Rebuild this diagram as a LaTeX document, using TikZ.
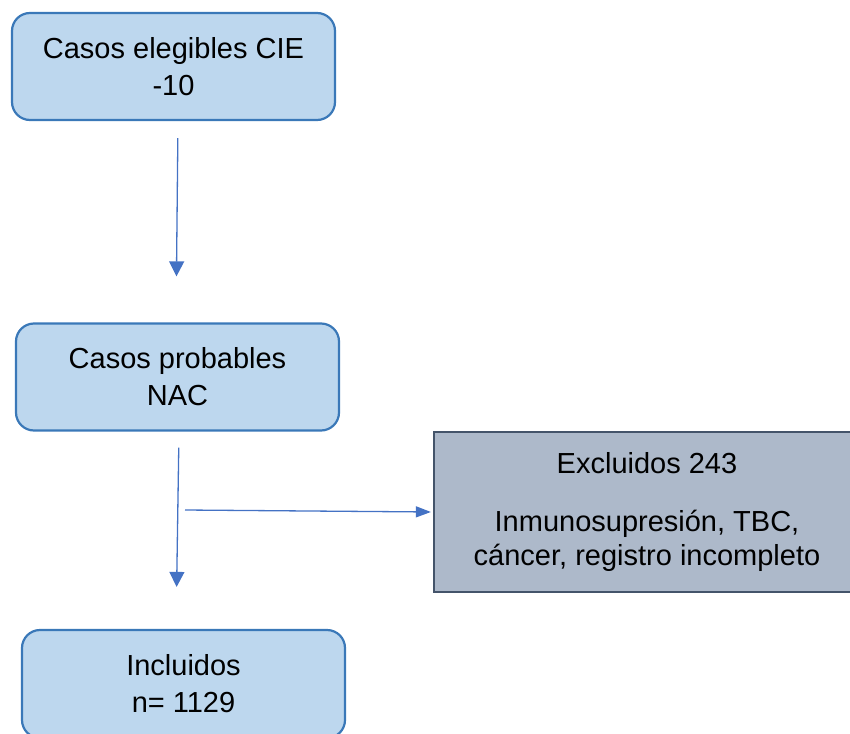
\documentclass[tikz,border=0pt]{standalone}
\usepackage{fontspec}
\setmainfont{Liberation Sans}
\usetikzlibrary{arrows.meta}

\definecolor{cajaborde}{HTML}{3A78B8}
\definecolor{cajafondo}{HTML}{BDD7EE}
\definecolor{grisborde}{HTML}{44546A}
\definecolor{grisfondo}{HTML}{ADB9CA}
\definecolor{flechacol}{HTML}{4472C4}

\begin{document}
\begin{tikzpicture}[x=1pt,y=-1pt,
	caja/.style={draw=cajaborde,fill=cajafondo,line width=2.2pt,rounded corners=18pt,
		minimum width=323pt,minimum height=107pt,inner sep=0pt,align=center,
		font=\fontsize{29}{37}\selectfont},
	excluidos/.style={draw=grisborde,fill=grisfondo,line width=2.2pt,
		minimum width=426pt,minimum height=160pt,inner sep=0pt,align=center,
		font=\fontsize{29}{34}\selectfont},
	flecha/.style={draw=flechacol,line width=1.3pt,-{Triangle[width=15pt,length=15pt]}}]
	\clip (0,0) rectangle (850,733);
	\node[caja] (cie) at (173.5,66.5) {Casos elegibles CIE\\-10};
	\node[caja] (nac) at (177.5,377) {Casos probables\\NAC};
	\node[caja,minimum height=108pt] (incl) at (183.5,684) {Incluidos\\n= 1129};
	\node[excluidos] (excl) at (647,512) {Excluidos 243\\[24pt]Inmunosupresión, TBC,\\cáncer, registro incompleto};
	\coordinate (rama) at (185,510);
	
	\draw[flecha,shorten <=17pt,shorten >=46pt] ([xshift=4.5pt]cie.south) -- ([xshift=-1.5pt]nac.north);
	\draw[flecha,shorten <=16pt,shorten >=42pt] ([xshift=1.5pt]nac.south) -- ([xshift=-7.5pt]incl.north);
	\draw[flecha,-{Triangle[width=11pt,length=15pt]},shorten >=2pt] (rama) -- (excl.west);
\end{tikzpicture}
\end{document}
